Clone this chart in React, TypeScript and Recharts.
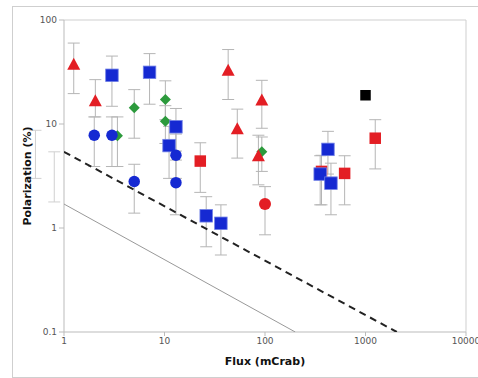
import React from 'react'
import { ScatterChart, Scatter, XAxis, YAxis, ErrorBar, ReferenceLine } from 'recharts'

// [flux, polarization, lower error, upper error]
const redTriangles = [
  [1.25, 38, 19.6, 60],
  [2.05, 16.9, 11.7, 26.7],
  [43, 33.3, 17.2, 52],
  [53, 9.1, 4.7, 13.9],
  [93, 17.2, 9.1, 26.3],
  [86, 5.0, 2.6, 7.8],
]
const redSquares = [
  [22.7, 4.4, 2.2, 6.6],
  [1250, 7.3, 3.7, 11],
  [365, 3.5, 1.67, 5],
  [620, 3.35, 1.67, 4.95],
]
const redCircles = [[100, 1.7, 0.86, 2.5]]
const greenDiamonds = [
  [5, 14.3, 7.3, 21.4],
  [10.2, 17.2, 11, 26],
  [10.2, 10.6, 6.5, 15],
  [3.4, 7.7, 3.9, 11.7],
  [93, 5.4, 3.5, 7.5],
]
const blueSquares = [
  [3, 29.4, 14.8, 45],
  [7.1, 31.4, 15.5, 47.5],
  [13, 9.4, 5.5, 14.1],
  [11.1, 6.2, 3.0, 9.5],
  [26, 1.31, 0.66, 2.0],
  [36.4, 1.11, 0.55, 1.67],
  [423, 5.7, 3.3, 8.5],
  [354, 3.3, 1.67, 4.95],
  [453, 2.7, 1.34, 4.2],
]
const blueCircles = [
  [2.0, 7.8, 3.9, 11.7],
  [3.0, 7.8, 3.9, 11.7],
  [5, 2.8, 1.39, 4.1],
  [13, 5.0, 3.0, 8.0],
  [13, 2.73, 1.34, 4.5],
]
const blackSquares = [[1000, 18.9]]
// sources below 1 mCrab: only their error bars show, left of the axis
const offScale = [
  [0.52, 5.1, 3.0, 8.7],
  [0.8, 3.1, 1.78, 5.4],
]

const dashedLimit = [
  { x: 1, y: 5.4 },
  { x: 2050, y: 0.1 },
]
const solidLimit = [
  { x: 1, y: 1.7 },
  { x: 200, y: 0.1 },
]

const xTicks = [1, 10, 100, 1000, 10000]
const yTicks = [0.1, 1, 10, 100]

const RED = '#e31e24'
const BLUE = '#1529d2'
const GREEN = '#2c9a3c'
const ERR = '#b5b5b5'

const toPoints = (rows: number[][]) =>
  rows.map(([x, y, lo, hi]) => ({ x, y, err: lo === undefined ? [0, 0] : [y - lo, hi - y] }))

const square = (color: string, s: number, stroke?: string) => (p: any) => (
  <rect x={p.cx - s / 2} y={p.cy - s / 2} width={s} height={s} fill={color} stroke={stroke || 'none'} strokeWidth={0.8} />
)
const circle = (color: string, s: number) => (p: any) => <circle cx={p.cx} cy={p.cy} r={s / 2} fill={color} />
const triangle = (color: string, w: number, h: number) => (p: any) => (
  <polygon
    points={`${p.cx},${p.cy - h / 2} ${p.cx + w / 2},${p.cy + h / 2} ${p.cx - w / 2},${p.cy + h / 2}`}
    fill={color}
  />
)
const diamond = (color: string, s: number) => (p: any) => (
  <polygon
    points={`${p.cx},${p.cy - s / 2} ${p.cx + s / 2},${p.cy} ${p.cx},${p.cy + s / 2} ${p.cx - s / 2},${p.cy}`}
    fill={color}
  />
)
const none = () => <g />

const errBar = <ErrorBar dataKey="err" direction="y" width={6} stroke={ERR} strokeWidth={1} />

export default function App() {
  const font = '"DejaVu Sans", Verdana, sans-serif'
  return (
    <div style={{ position: 'fixed', left: 0, top: 0, width: 478, height: 378, background: '#fff', overflow: 'hidden', fontFamily: font }}>
      <div style={{ position: 'absolute', left: 12, top: 6, width: 480, height: 370, border: '1px solid #cfcfcf' }} />
      <ScatterChart width={478} height={378} margin={{ top: 20, right: 12, left: 14, bottom: 16 }} style={{ position: 'absolute', left: 0, top: 0 }}>
        <XAxis
          type="number"
          dataKey="x"
          scale="log"
          domain={[1, 10000]}
          ticks={xTicks}
          allowDataOverflow
          height={30}
          stroke="#bbb"
          tickSize={4}
          tick={{ fill: '#555', fontSize: 9, fontFamily: font }}
        />
        <YAxis
          type="number"
          dataKey="y"
          scale="log"
          domain={[0.1, 100]}
          ticks={yTicks}
          allowDataOverflow
          width={50}
          stroke="#bbb"
          tickSize={5}
          tick={{ fill: '#555', fontSize: 9, fontFamily: font }}
        />
        <ReferenceLine y={100} stroke="#cfcfcf" />
        <ReferenceLine x={10000} stroke="#cfcfcf" />
        <Scatter data={solidLimit} line={{ stroke: '#999', strokeWidth: 1 }} shape={none} isAnimationActive={false} />
        <Scatter data={dashedLimit} line={{ stroke: '#222', strokeWidth: 2, strokeDasharray: '7 5' }} shape={none} isAnimationActive={false} />
        <Scatter data={toPoints(offScale)} shape={none} isAnimationActive={false}>
          <ErrorBar dataKey="err" direction="y" width={6} stroke="#d0d0d0" strokeWidth={1} />
        </Scatter>
        <Scatter data={toPoints(greenDiamonds)} shape={diamond(GREEN, 11)} isAnimationActive={false}>
          {errBar}
        </Scatter>
        <Scatter data={toPoints(redTriangles)} shape={triangle(RED, 13, 12)} isAnimationActive={false}>
          {errBar}
        </Scatter>
        <Scatter data={toPoints(redSquares)} shape={square(RED, 11.5)} isAnimationActive={false}>
          {errBar}
        </Scatter>
        <Scatter data={toPoints(redCircles)} shape={circle(RED, 12)} isAnimationActive={false}>
          {errBar}
        </Scatter>
        <Scatter data={toPoints(blueSquares)} shape={square(BLUE, 12.5, '#6f7fe6')} isAnimationActive={false}>
          {errBar}
        </Scatter>
        <Scatter data={toPoints(blueCircles)} shape={circle(BLUE, 11.5)} isAnimationActive={false}>
          {errBar}
        </Scatter>
        <Scatter data={toPoints(blackSquares)} shape={square('#000', 10.5)} isAnimationActive={false} />
      </ScatterChart>
      <div style={{ position: 'absolute', left: 165, width: 200, top: 355, textAlign: 'center', fontWeight: 'bold', fontSize: 11, color: '#111' }}>
        Flux (mCrab)
      </div>
      <div
        style={{
          position: 'absolute',
          left: 28,
          top: 176,
          width: 160,
          marginLeft: -80,
          marginTop: -7,
          textAlign: 'center',
          fontWeight: 'bold',
          fontSize: 11,
          color: '#111',
          lineHeight: '14px',
          transform: 'rotate(-90deg)',
        }}
      >
        Polarization (%)
      </div>
    </div>
  )
}
